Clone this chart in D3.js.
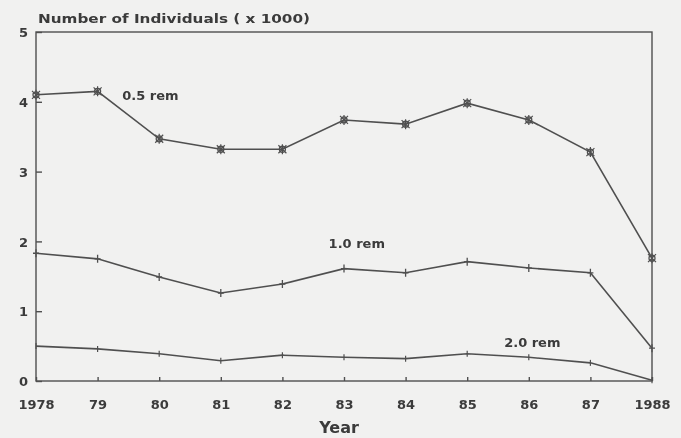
<!DOCTYPE html>
<html>
<head>
<meta charset="utf-8">
<script src="https://cdn.jsdelivr.net/npm/d3@7"></script>
<style>
    body { margin: 0; background: #f1f1f0; }
    svg text { font-family: "DejaVu Sans", "Liberation Sans", sans-serif; font-weight: bold; fill: #3a3a3a; }
</style>
</head>
<body>
<div id="chart"></div>
<script>
const YEARS = [1978, 1979, 1980, 1981, 1982, 1983, 1984, 1985, 1986, 1987, 1988];
const YEAR_LABELS = ["1978", "79", "80", "81", "82", "83", "84", "85", "86", "87", "1988"];
const Y_TICKS = [0, 1, 2, 3, 4, 5];
const REM_05 = [4.10, 4.15, 3.47, 3.32, 3.32, 3.74, 3.68, 3.98, 3.74, 3.28, 1.76];
const REM_10 = [1.83, 1.75, 1.49, 1.26, 1.39, 1.61, 1.55, 1.71, 1.62, 1.55, 0.47];
const REM_20 = [0.50, 0.46, 0.39, 0.29, 0.37, 0.34, 0.32, 0.39, 0.34, 0.26, 0.01];

function drawChart() {
    const width = 681;
    const height = 438;
    const margin = { top: 32, right: 29, bottom: 57, left: 36 };
    const innerWidth = width - margin.left - margin.right;
    const innerHeight = height - margin.top - margin.bottom;
    const ink = "#505050";

    const svg = d3.select("#chart")
        .append("svg")
        .attr("width", width)
        .attr("height", height);

    svg.append("defs")
        .append("filter")
        .attr("id", "soft")
        .append("feGaussianBlur")
        .attr("stdDeviation", 0.45);

    const root = svg.append("g").attr("filter", "url(#soft)");
    const chart = root.append("g")
        .attr("transform", `translate(${margin.left},${margin.top})`);

    const x = d3.scaleLinear()
        .domain([1978, 1988])
        .range([0, innerWidth]);

    const y = d3.scaleLinear()
        .domain([0, 5])
        .range([innerHeight, 0]);

    // frame
    chart.append("rect")
        .attr("width", innerWidth)
        .attr("height", innerHeight)
        .attr("fill", "none")
        .attr("stroke", ink)
        .attr("stroke-width", 1.4);

    const yAxis = chart.append("g")
        .call(d3.axisLeft(y).tickValues(Y_TICKS).tickFormat(d3.format("d"))
            .tickSizeInner(-6).tickSizeOuter(0).tickPadding(8));
    yAxis.select(".domain").remove();
    yAxis.selectAll("line").attr("stroke", ink).attr("stroke-width", 1.4);
    yAxis.selectAll("text").attr("font-size", 13).attr("dy", "0.36em");

    const xAxis = chart.append("g")
        .attr("transform", `translate(0,${innerHeight})`)
        .call(d3.axisBottom(x).tickValues(YEARS).tickFormat((d, i) => YEAR_LABELS[i])
            .tickSizeInner(-4).tickSizeOuter(0).tickPadding(28));
    xAxis.select(".domain").remove();
    xAxis.selectAll("line").attr("stroke", ink).attr("stroke-width", 1.4);
    xAxis.selectAll("text").attr("font-size", 13).attr("dy", "0");

    const line = d3.line()
        .x((d, i) => x(YEARS[i]))
        .y(d => y(d));

    [REM_05, REM_10, REM_20].forEach(series => {
        chart.append("path")
            .datum(series)
            .attr("d", line)
            .attr("fill", "none")
            .attr("stroke", ink)
            .attr("stroke-width", 1.6);
    });

    // star markers for 0.5 rem
    const star = chart.selectAll(".star")
        .data(REM_05)
        .enter()
        .append("g")
        .attr("transform", (d, i) => `translate(${x(YEARS[i])},${y(d)})`);
    star.append("circle")
        .attr("r", 3)
        .attr("fill", "none")
        .attr("stroke", ink)
        .attr("stroke-width", 1.3);
    star.append("path")
        .attr("d", "M-4,-4L4,4M-4,4L4,-4M0,-5V5")
        .attr("stroke", ink)
        .attr("stroke-width", 1.2);

    // plus markers for 1.0 rem
    chart.selectAll(".plus")
        .data(REM_10)
        .enter()
        .append("path")
        .attr("transform", (d, i) => `translate(${x(YEARS[i])},${y(d)})`)
        .attr("d", "M0,-4V4M-3,0H3")
        .attr("stroke", ink)
        .attr("stroke-width", 1.3);

    // small ticks for 2.0 rem
    chart.selectAll(".tick2")
        .data(REM_20)
        .enter()
        .append("path")
        .attr("transform", (d, i) => `translate(${x(YEARS[i])},${y(d)})`)
        .attr("d", "M0,-3V3")
        .attr("stroke", ink)
        .attr("stroke-width", 1.2);

    // series labels
    const labels = [
        { text: "0.5 rem", year: 1979.4, value: 4.02 },
        { text: "1.0 rem", year: 1982.75, value: 1.91 },
        { text: "2.0 rem", year: 1985.6, value: 0.49 }
    ];
    chart.selectAll(".series-label")
        .data(labels)
        .enter()
        .append("text")
        .attr("x", d => x(d.year))
        .attr("y", d => y(d.value))
        .attr("font-size", 13)
        .text(d => d.text);

    root.append("text")
        .attr("x", 38)
        .attr("y", 23)
        .attr("font-size", 13)
        .attr("textLength", 272)
        .attr("lengthAdjust", "spacingAndGlyphs")
        .text("Number of Individuals ( x 1000)");

    root.append("text")
        .attr("x", 339)
        .attr("y", 433)
        .attr("text-anchor", "middle")
        .attr("font-size", 16)
        .text("Year");
}

drawChart();
</script>
</body>
</html>
